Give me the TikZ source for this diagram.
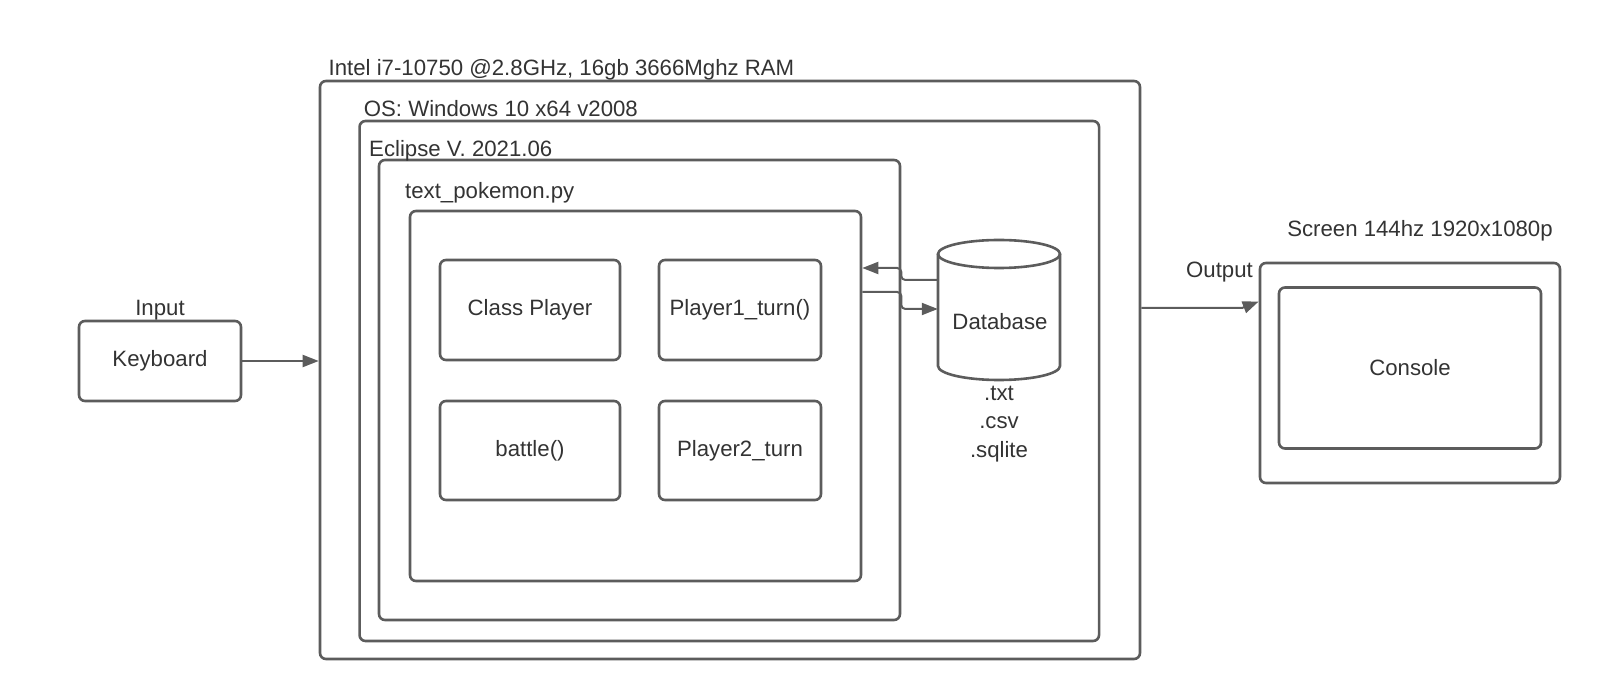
\documentclass[tikz,border=0pt]{standalone}
\usepackage{fontspec}
\setmainfont{Liberation Sans}
\usetikzlibrary{arrows.meta,calc}
\definecolor{ln}{HTML}{5C5C5C}
\definecolor{tx}{HTML}{333333}
\begin{document}
\begin{tikzpicture}[x=1pt,y=-1pt,
  box/.style={draw=ln, line width=2.6pt, rounded corners=6pt, inner sep=0pt, text=tx,
    font=\fontsize{22.2}{26.5}\selectfont},
  lbl/.style={inner sep=0pt, text=tx, font=\fontsize{22.2}{26.5}\selectfont},
  conn/.style={draw=ln, line width=2pt, rounded corners=4pt,
    -{Triangle[length=16pt,width=12pt]}}
]
\useasboundingbox (0,0) rectangle (1620,700);
% containers
\node[box, minimum width=820pt, minimum height=578pt] (cpu) at (730,370) {};
\node[box, minimum width=739.5pt, minimum height=520pt] (os) at (729.3,381) {};
\node[box, minimum width=521pt, minimum height=460pt] (ecl) at (639.5,390) {};
\node[box, minimum width=451pt, minimum height=370pt] (prog) at (635.5,396) {};
% inner boxes
\node[box, minimum width=180pt, minimum height=100pt] (cp) at (530,310) {Class Player};
\node[box, minimum width=162pt, minimum height=100pt] (p1) at (740,310) {Player1\_turn()};
\node[box, minimum width=180pt, minimum height=99pt] (bt) at (530,450.5) {battle()};
\node[box, minimum width=162pt, minimum height=99pt] (p2) at (740,450.5) {Player2\_turn};
% keyboard
\node[box, minimum width=162pt, minimum height=80pt] (kb) at (160,361) {Keyboard};
% screen
\node[box, minimum width=300pt, minimum height=220pt] (scr) at (1410,373) {};
\node[box, minimum width=262pt, minimum height=161pt] (con) at (1410,368) {Console};
% labels
\node[lbl, anchor=base west] (cpulbl) at (328.5,76) {Intel i7-10750 @2.8GHz, 16gb 3666Mghz RAM};
\node[lbl, anchor=base west] (oslbl) at (363.7,116.5) {OS: Windows 10 x64 v2008};
\node[lbl, anchor=base west] (ecllbl) at (369,157) {Eclipse V. 2021.06};
\node[lbl, anchor=base west] (proglbl) at (405,199) {text\_pokemon.py};
\node[lbl, anchor=base] (inlbl) at (160,316) {Input};
\node[lbl, anchor=base east] (outlbl) at (1253,278) {Output};
\node[lbl, anchor=base] (scrlbl) at (1420,237) {Screen 144hz 1920x1080p};
% database
\node[minimum width=122pt, minimum height=140pt, inner sep=0pt] (db) at (999,310) {};
\draw[draw=ln, line width=2.6pt]
  (999,254) ellipse[x radius=61, y radius=14];
\draw[draw=ln, line width=2.6pt]
  (938,254) -- (938,366) arc[start angle=180, end angle=0, x radius=61, y radius=14] -- (1060,254);
\node[lbl] (dblbl) at (1000,322) {Database};
\node[lbl, align=center, anchor=north, font=\fontsize{22.2}{28.4}\selectfont] (ext) at (999,386) {.txt\\.csv\\.sqlite};
% connectors
\draw[conn] (db.west |- 0,280) -- (ecl.east |- 0,280) -- (ecl.east |- 0,268) -- (prog.east |- 0,268);
\draw[conn] (prog.east |- 0,292) -- (ecl.east |- 0,292) -- (ecl.east |- 0,309) -- (db.west |- 0,309);
\draw[conn] (kb.east) -- (kb.east -| cpu.west);
\draw[conn, rounded corners=0pt] (cpu.east |- 0,308) -- (1242,308) -- (scr.west |- 0,301.5);
\end{tikzpicture}
\end{document}
